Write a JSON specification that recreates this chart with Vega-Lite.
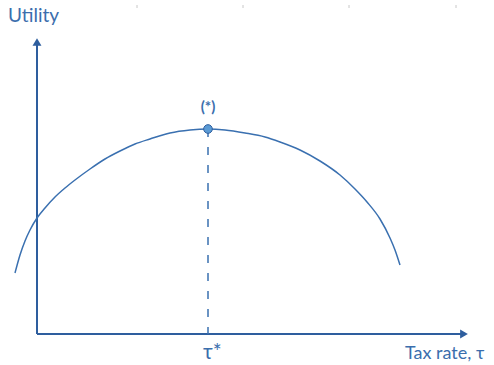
{
  "$schema": "https://vega.github.io/schema/vega-lite/v6.json",
  "width": 494,
  "height": 365,
  "padding": 0,
  "autosize": {"type": "fit", "contains": "padding"},
  "config": {"view": {"stroke": null}},
  "datasets": {
    "curve": [
      {"tau": -22, "utility": 61},
      {"tau": -17, "utility": 79},
      {"tau": -12, "utility": 93},
      {"tau": -7, "utility": 104},
      {"tau": 0, "utility": 116},
      {"tau": 8, "utility": 126},
      {"tau": 18, "utility": 137},
      {"tau": 28, "utility": 146},
      {"tau": 38, "utility": 154},
      {"tau": 53, "utility": 165},
      {"tau": 68, "utility": 175},
      {"tau": 83, "utility": 183},
      {"tau": 98, "utility": 190},
      {"tau": 113, "utility": 195},
      {"tau": 133, "utility": 201},
      {"tau": 153, "utility": 204},
      {"tau": 171, "utility": 205},
      {"tau": 188, "utility": 204},
      {"tau": 208, "utility": 201},
      {"tau": 228, "utility": 197},
      {"tau": 243, "utility": 192},
      {"tau": 263, "utility": 184},
      {"tau": 283, "utility": 173},
      {"tau": 303, "utility": 159},
      {"tau": 318, "utility": 145},
      {"tau": 330, "utility": 132},
      {"tau": 343, "utility": 115},
      {"tau": 353, "utility": 96},
      {"tau": 358, "utility": 84},
      {"tau": 363, "utility": 69}
    ],
    "axes": [
      {"x": 0, "y": 0, "x2": 0, "y2": 291},
      {"x": 0, "y": 0, "x2": 425, "y2": 0}
    ],
    "optimum": [{"tau": 171, "utility": 205, "base": 0}],
    "marks": [{"x": 100}, {"x": 206}, {"x": 312}, {"x": 419}]
  },
  "layer": [
    {
      "data": {"name": "marks"},
      "mark": {"type": "rule", "color": "#c8c8c8", "strokeWidth": 1},
      "encoding": {
        "x": {"field": "x", "type": "quantitative", "scale": {"domain": [-37, 457], "nice": false, "zero": false}, "axis": null},
        "y": {"datum": 329, "type": "quantitative", "scale": {"domain": [-31, 334], "nice": false, "zero": false}, "axis": null},
        "y2": {"datum": 326}
      }
    },
    {
      "data": {"name": "axes"},
      "mark": {"type": "rule", "color": "#2E5E9E", "strokeWidth": 2},
      "encoding": {
        "x": {"field": "x", "type": "quantitative"},
        "y": {"field": "y", "type": "quantitative"},
        "x2": {"field": "x2"},
        "y2": {"field": "y2"}
      }
    },
    {
      "data": {"values": [{"x": 0, "y": 292}]},
      "mark": {"type": "point", "shape": "triangle-up", "filled": true, "size": 80, "color": "#2E5E9E", "opacity": 1},
      "encoding": {
        "x": {"field": "x", "type": "quantitative"},
        "y": {"field": "y", "type": "quantitative"}
      }
    },
    {
      "data": {"values": [{"x": 427, "y": 0}]},
      "mark": {"type": "point", "shape": "triangle-right", "filled": true, "size": 80, "color": "#2E5E9E", "opacity": 1},
      "encoding": {
        "x": {"field": "x", "type": "quantitative"},
        "y": {"field": "y", "type": "quantitative"}
      }
    },
    {
      "data": {"name": "curve"},
      "mark": {"type": "line", "interpolate": "monotone", "color": "#3A70B0", "strokeWidth": 1.5},
      "encoding": {
        "x": {"field": "tau", "type": "quantitative"},
        "y": {"field": "utility", "type": "quantitative"}
      }
    },
    {
      "data": {"name": "optimum"},
      "mark": {"type": "rule", "color": "#3A70B0", "strokeWidth": 1.5, "strokeDash": [8, 10]},
      "encoding": {
        "x": {"field": "tau", "type": "quantitative"},
        "y": {"field": "utility", "type": "quantitative"},
        "y2": {"field": "base"}
      }
    },
    {
      "data": {"name": "optimum"},
      "mark": {"type": "point", "filled": true, "shape": "circle", "size": 75, "fill": "#5B9BD5", "stroke": "#2E5E9E", "strokeWidth": 1, "opacity": 1},
      "encoding": {
        "x": {"field": "tau", "type": "quantitative"},
        "y": {"field": "utility", "type": "quantitative"}
      }
    },
    {
      "data": {"values": [{"label": "(*)", "x": 171, "y": 227}]},
      "mark": {"type": "text", "align": "center", "baseline": "middle", "font": "Lato", "fontSize": 15, "fontWeight": "bold", "color": "#3B6EAD"},
      "encoding": {
        "x": {"field": "x", "type": "quantitative"},
        "y": {"field": "y", "type": "quantitative"},
        "text": {"field": "label"}
      }
    },
    {
      "data": {"values": [{"label": "Utility", "x": -29, "y": 312}]},
      "mark": {"type": "text", "align": "left", "baseline": "alphabetic", "font": "Lato", "fontSize": 19, "color": "#3B6EAD"},
      "encoding": {
        "x": {"field": "x", "type": "quantitative"},
        "y": {"field": "y", "type": "quantitative"},
        "text": {"field": "label"}
      }
    },
    {
      "data": {"values": [{"label": "τ*", "x": 166, "y": -25}]},
      "mark": {"type": "text", "align": "left", "baseline": "alphabetic", "font": "Lato", "fontSize": 21, "color": "#3B6EAD"},
      "encoding": {
        "x": {"field": "x", "type": "quantitative"},
        "y": {"field": "y", "type": "quantitative"},
        "text": {"field": "label"}
      }
    },
    {
      "data": {"values": [{"label": "Tax rate, τ", "x": 368, "y": -25}]},
      "mark": {"type": "text", "align": "left", "baseline": "alphabetic", "font": "Lato", "fontSize": 18, "color": "#3B6EAD"},
      "encoding": {
        "x": {"field": "x", "type": "quantitative"},
        "y": {"field": "y", "type": "quantitative"},
        "text": {"field": "label"}
      }
    }
  ]
}
